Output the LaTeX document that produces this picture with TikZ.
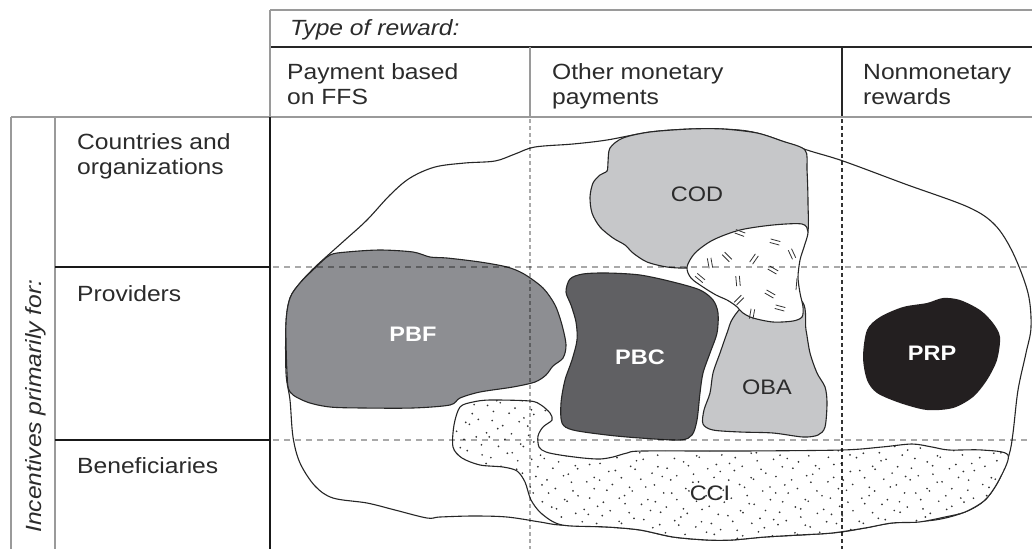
\documentclass[tikz,border=0pt]{standalone}
\usepackage{fontspec}
\setmainfont{Liberation Sans}[FakeStretch=1.12]
\definecolor{txt}{HTML}{2B2B2B}
\definecolor{pbfgray}{HTML}{8D8E92}
\definecolor{pbcgray}{HTML}{606063}
\definecolor{lightgray}{HTML}{C6C7C9}
\definecolor{prpblack}{HTML}{231F20}
\definecolor{gridgray}{HTML}{A9A9A9}
\definecolor{framegray}{HTML}{9A9A9A}
\newcommand\hatchmark[3]{\begin{scope}[shift={(#1,#2)},rotate=#3]\draw[hatchline] (-5,-1.8)--(5,-1.8) (-5,1.8)--(5,1.8);\end{scope}}
\begin{document}
\begin{tikzpicture}[x=1pt,y=-1pt,
  tabtext/.style={anchor=base west, inner sep=0pt, text=txt, font=\fontsize{22}{25}\selectfont},
  blob/.style={draw=black!85, line width=1.1pt},
  lbl/.style={inner sep=0pt, font=\fontsize{21}{24}\selectfont},
  hatchline/.style={draw=black!80, line width=0.8pt},
  frameline/.style={draw=framegray, line width=1.4pt},
  darkline/.style={draw=black!85, line width=1.4pt},
  thickline/.style={draw=black!90, line width=2.2pt},
  hdash/.style={draw=gridgray, line width=1.7pt, dash pattern=on 6pt off 5pt},
  vdashlight/.style={draw=gridgray, line width=1.5pt, dash pattern=on 4pt off 3pt},
  vdashdark/.style={draw=black!80, line width=1.3pt, dash pattern=on 4pt off 3pt}]
\useasboundingbox (0,0) rectangle (1032,549);
\fill[white] (0,0) rectangle (1032,549);

% ---------- outer blob ----------
\draw[blob, fill=white] plot[smooth cycle, tension=0.55] coordinates {
 (326,257) (345,240) (367,220) (390,195) (410,178) (435,167) (465,163) (495,161)
 (515,154) (535,147) (573,144) (607,140) (650,132) (690,129) (723,129) (757,133)
 (807,150) (843,161) (905,184) (968,207) (995,225) (1013,253) (1028,293) (1031,327)
 (1026,353) (1018,390) (1013,433) (1009,455) (999,480) (985,500) (965,512) (935,520)
 (892,523) (865,528) (832,533) (765,537) (732,540) (707,540) (673,537) (640,530)
 (607,527) (560,525) (540,522) (507,517) (473,516) (440,517) (427,518) (395,510)
 (367,503) (333,498) (315,486) (300,463) (293,437) (290,400) (286,373) (286,323)
 (290,298) (300,283) (313,269)};

% ---------- CCI (dotted) ----------
\def\ccipath{plot[smooth cycle, tension=0.5] coordinates {
 (460,407) (473,402) (490,400) (530,401) (541,405) (550,413) (552,420) (543,427)
 (538,436) (539,447) (546,452) (560,455) (583,458) (600,459) (613,457) (627,453)
 (643,451) (740,451) (842,450) (882,447) (912,444) (932,447) (949,450) (982,450)
 (1008,455) (999,480) (985,500) (965,512) (945,517) (919,522) (892,523) (865,528)
 (832,533) (799,535) (765,537) (732,540) (707,540) (673,537) (640,530) (607,527)
 (562,525) (542,514) (531,500) (525,482) (517,471) (503,467) (480,465) (462,458)
 (453,447) (454,425)}}
\fill[white] \ccipath;
\begin{scope}
 \clip \ccipath;
 \foreach \gx in {450,461,...,1015}{
   \foreach \gy in {396,407,...,545}{
     \pgfmathsetmacro\dx{\gx+4.8*sin(\gx*7.31+\gy*13.7)}
     \pgfmathsetmacro\dy{\gy+4.8*cos(\gx*11.9+\gy*3.3)}
     \fill[black!80] (\dx,\dy) circle (0.95);
   }
 }
\end{scope}
\draw[blob] \ccipath;

% ---------- PBF ----------
\draw[blob, fill=pbfgray] plot[smooth cycle, tension=0.5] coordinates {
 (330,255) (347,252) (380,250) (413,252) (430,257) (447,258) (480,262) (507,267)
 (524,274) (543,288) (555,305) (562,325) (566,345) (563,358) (553,366) (546,375)
 (535,382) (513,387) (480,392) (460,398) (450,405) (413,408) (363,408) (330,407)
 (307,402) (290,392) (287,373) (286,323) (290,298) (300,283) (315,268)};

% ---------- PBC ----------
\draw[blob, fill=pbcgray] plot[smooth cycle, tension=0.5] coordinates {
 (570,279) (583,274) (607,273) (640,275) (673,282) (700,290) (713,300) (718,313)
 (717,333) (710,353) (703,373) (700,393) (697,420) (692,435) (680,440) (640,438)
 (607,435) (573,430) (562,423) (561,403) (565,380) (572,360) (577,340) (576,322)
 (571,305) (566,292)};

% ---------- COD ----------
\draw[blob, fill=lightgray] plot[smooth cycle, tension=0.5] coordinates {
 (610,148) (623,138) (650,132) (690,129) (723,129) (757,133) (782,141) (805,150)
 (807,170) (808,203) (807,235) (790,245) (740,255) (705,265) (687,268) (667,267)
 (647,262) (633,253) (625,245) (613,238) (600,227) (592,213) (590,197) (593,183)
 (600,175) (607,171) (608,162)};

% ---------- OBA ----------
\draw[blob, fill=lightgray] plot[smooth cycle, tension=0.5] coordinates {
 (733,318) (748,305) (800,300) (806,330) (810,353) (817,373) (825,387) (827,403)
 (825,427) (818,435) (803,437) (773,433) (740,432) (713,430) (703,424) (704,410)
 (710,393) (713,373) (720,353) (727,333)};

% ---------- hatched shape ----------
\draw[blob, fill=white] plot[smooth cycle, tension=0.5] coordinates {
 (687,267) (695,253) (713,240) (740,230) (773,225) (802,224) (808,232) (804,247)
 (800,260) (798,277) (800,293) (803,307) (802,317) (793,321) (773,322) (753,318)
 (743,313) (736,306) (727,300) (716,295) (703,287) (691,278)};
\hatchmark{740}{233}{-20}
\hatchmark{775}{242}{-15}
\hatchmark{792}{254}{-65}
\hatchmark{710}{263}{-80}
\hatchmark{727}{257}{-45}
\hatchmark{754}{259}{55}
\hatchmark{773}{270}{-30}
\hatchmark{738}{281}{95}
\draw[hatchline] (797,278) -- (796,290);
\hatchmark{770}{294}{-30}
\hatchmark{780}{308}{-15}
\hatchmark{739}{300}{45}
\hatchmark{752}{314}{80}
\hatchmark{700}{278}{-40}

% ---------- PRP ----------
\fill[prpblack] plot[smooth cycle, tension=0.5] coordinates {
 (867,330) (880,317) (903,307) (927,303) (943,298) (960,300) (980,310) (993,323)
 (1000,337) (997,360) (987,380) (973,397) (953,408) (927,410) (900,403) (877,393)
 (867,380) (863,357)};

% ---------- table lines ----------
\draw[frameline] (270,10) -- (1032,10);
\draw[darkline] (270,47) -- (1032,47);
\draw[frameline] (270,10) -- (270,117);
\draw[frameline] (530,47) -- (530,117);
\draw[darkline] (842,47) -- (842,117);
\draw[frameline] (11,117) -- (1032,117);
\draw[frameline] (11,117) -- (11,549);
\draw[frameline] (55,117) -- (55,549);
\draw[thickline] (270,117) -- (270,549);
\draw[thickline] (55,267) -- (270,267);
\draw[thickline] (55,440) -- (270,440);
\begin{scope}[blend mode=multiply]
 \draw[hdash] (273,267) -- (1032,267);
 \draw[hdash] (273,440) -- (1032,440);
 \draw[vdashlight] (530,119) -- (530,549);
 \draw[vdashdark] (842,119) -- (842,549);
\end{scope}

% ---------- texts ----------
\node[tabtext, font=\fontsize{22}{25}\selectfont\itshape] (type) at (290,35) {Type of reward:};
\node[tabtext] (ffsA) at (287,79) {Payment based};
\node[tabtext] (ffsB) at (287,104) {on FFS};
\node[tabtext] (omA) at (552,79) {Other monetary};
\node[tabtext] (omB) at (552,104) {payments};
\node[tabtext] (nmA) at (863,79) {Nonmonetary};
\node[tabtext] (nmB) at (863,104) {rewards};
\node[tabtext] (coA) at (77,149) {Countries and};
\node[tabtext] (coB) at (77,174) {organizations};
\node[tabtext] (prov) at (77,301) {Providers};
\node[tabtext] (bene) at (77,473) {Beneficiaries};
\node[tabtext, rotate=90, font=\fontsize{22}{25}\selectfont\itshape] (inc) at (41,533) {Incentives primarily for:};

\node[lbl, text=white, font=\fontsize{21}{24}\selectfont\bfseries] (pbf) at (413,334) {PBF};
\node[lbl, text=white, font=\fontsize{21}{24}\selectfont\bfseries] (pbc) at (640,357) {PBC};
\node[lbl, text=txt] (cod) at (697,194) {COD};
\node[lbl, text=txt] (oba) at (767,387) {OBA};
\node[lbl, text=white, font=\fontsize{21}{24}\selectfont\bfseries] (prp) at (932,353) {PRP};
\node[lbl, text=txt] (cci) at (710,493) {CCI};
\end{tikzpicture}
\end{document}
